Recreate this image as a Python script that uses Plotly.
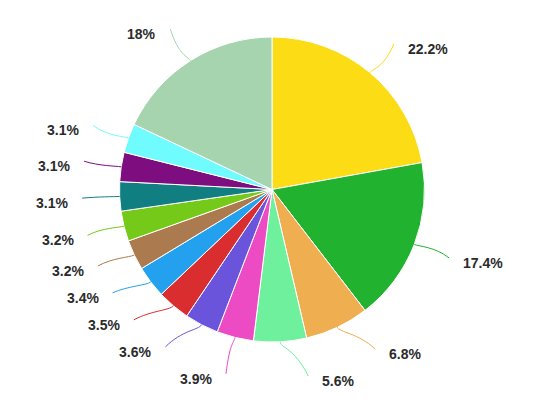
import math
import plotly.graph_objects as go

# ---- data ----
categories = ["A", "B", "C", "D", "E", "F", "G", "H", "I", "J", "K", "L", "M", "N"]
values = [22.2, 17.4, 6.8, 5.6, 3.9, 3.6, 3.5, 3.4, 3.2, 3.2, 3.1, 3.1, 3.1, 18]
label_texts = ["22.2%", "17.4%", "6.8%", "5.6%", "3.9%", "3.6%", "3.5%", "3.4%",
               "3.2%", "3.2%", "3.1%", "3.1%", "3.1%", "18%"]
colors = ["#FCDC14", "#21B32F", "#EFAE4F", "#6EF09C", "#ED4BC3", "#6A54DC", "#D92D2F",
          "#24A1EE", "#AB7A4E", "#75C918", "#117F82", "#7E0D7F", "#70FBFE", "#A6D4AF"]

# ---- layout geometry (pixels) ----
W, H = 543, 416
cx, cy, R = 272, 189.5, 152.5
LR = 190          # radius of label-line end points
GAP = 27          # min vertical spacing between labels on one side
BOTTOM = 376
TOP = 25
BREAK = 6         # connector break offset from slice edge
TEXT_PAD = 12

fig = go.Figure(go.Pie(
    labels=categories, values=values, sort=False, direction="clockwise", rotation=0,
    marker=dict(colors=colors, line=dict(color="white", width=1)),
    textinfo="none", hoverinfo="none", showlegend=False,
    domain=dict(x=[(cx - R) / W, (cx + R) / W], y=[(H - cy - R) / H, (H - cy + R) / H]),
))

total = sum(values)
mids = []
acc = 0
for v in values:
    mids.append((acc + v / 2) / total * 2 * math.pi)
    acc += v

# natural positions, then resolve overlaps per side
ys = {}
for side in ("right", "left"):
    idx = [i for i, a in enumerate(mids) if (math.sin(a) >= 0) == (side == "right")]
    idx.sort(key=lambda i: cy - LR * math.cos(mids[i]))
    y = [min(max(cy - LR * math.cos(mids[i]), TOP), BOTTOM) for i in idx]
    for k in range(len(y) - 2, -1, -1):
        y[k] = min(y[k], y[k + 1] - GAP)
    for k in range(1, len(y)):
        y[k] = max(y[k], y[k - 1] + GAP)
    for i, yy in zip(idx, y):
        ys[i] = yy

px = lambda x: x / W
py = lambda y: 1 - y / H

shapes = []
annotations = []
for i, a in enumerate(mids):
    s, c = math.sin(a), math.cos(a)
    sign = 1 if s >= 0 else -1
    y2 = ys[i]
    dy = y2 - cy
    x2 = cx + sign * math.sqrt(max(LR * LR - dy * dy, 0))
    ex, ey = cx + R * s, cy - R * c
    bx, by = cx + (R + BREAK) * s, cy - (R + BREAK) * c
    path = (f"M {px(x2)},{py(y2)} C {px((x2 + bx) / 2)},{py(by)} "
            f"{px(bx)},{py(by)} {px(ex)},{py(ey)}")
    shapes.append(dict(type="path", path=path, xref="paper", yref="paper",
                       line=dict(color=colors[i], width=1)))
    annotations.append(dict(
        x=px(x2 + sign * TEXT_PAD), y=py(y2 + 5), xref="paper", yref="paper",
        text=f"<b>{label_texts[i]}</b>", showarrow=False,
        xanchor="left" if sign > 0 else "right", yanchor="middle",
        font=dict(family="Liberation Sans, Arial, sans-serif", size=14, color="#2b2b2b"),
    ))

fig.update_layout(
    width=W, height=H, margin=dict(l=0, r=0, t=0, b=0),
    paper_bgcolor="white", plot_bgcolor="white",
    shapes=shapes, annotations=annotations,
)
fig.write_html("out.html")
